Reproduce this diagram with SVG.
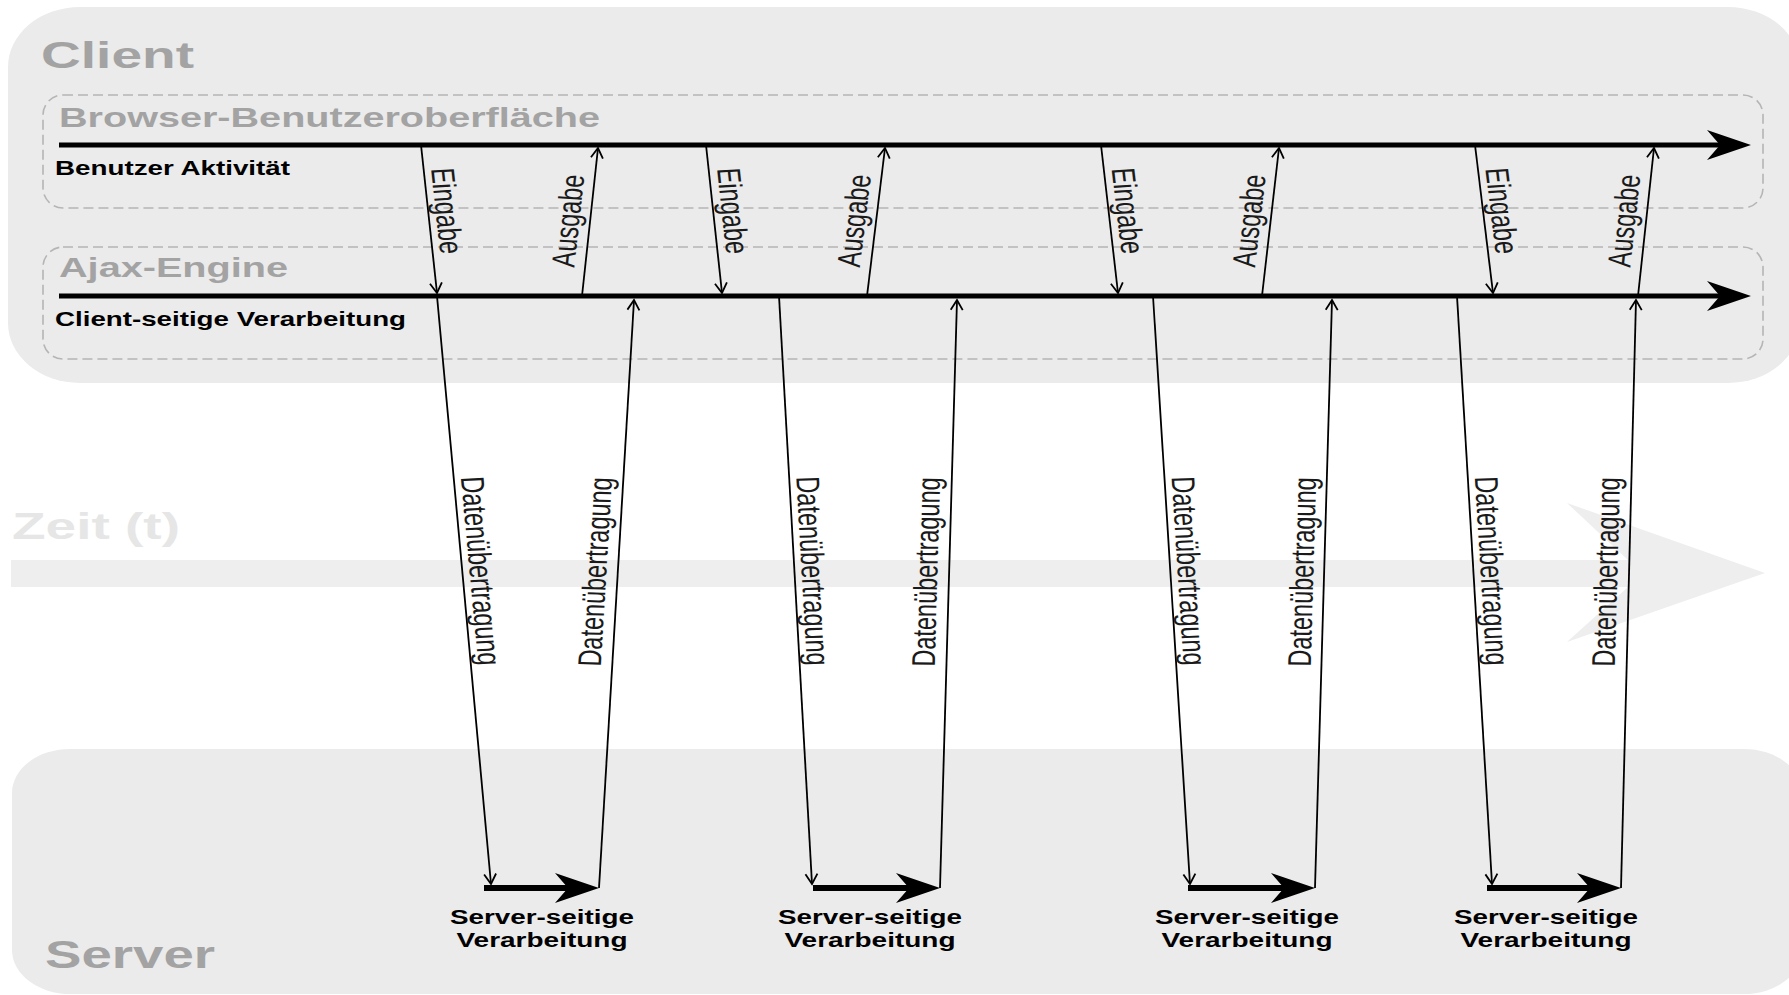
<svg xmlns="http://www.w3.org/2000/svg" width="1789" height="995" viewBox="0 0 1789 995">
<style>
text{font-family:"Liberation Sans",Arial,Helvetica,sans-serif}
.zone{fill:#ebebeb}
.zt{font-weight:bold;fill:#a3a3a3}
.sub{fill:none;stroke:#b5b5b5;stroke-width:1.6;stroke-dasharray:10 5}
.lbl{font-weight:bold;fill:#000;font-size:19.5px}
.axis{fill:none;stroke:#000;stroke-width:5;marker-end:url(#big)}
.srv{fill:none;stroke:#000;stroke-width:6;marker-end:url(#big)}
.thin{fill:none;stroke:#000;stroke-width:1.8;marker-end:url(#small)}
.rl{font-size:23.5px;fill:#1a1a1a;text-anchor:middle}
.sv{font-weight:bold;font-size:19.5px;fill:#000;text-anchor:middle}
</style>
<defs>
<marker id="big" viewBox="0 0 44 30" refX="13" refY="15" markerWidth="44" markerHeight="30" markerUnits="userSpaceOnUse" orient="auto">
<path d="M0,0 L44,15 L0,30 L13,15 Z" fill="#000"/>
</marker>
<marker id="small" viewBox="-1 -1 14 14" refX="10" refY="6" markerWidth="14" markerHeight="14" markerUnits="userSpaceOnUse" orient="auto" overflow="visible">
<path d="M0,0 L10,6 L0,12" fill="none" stroke="#000" stroke-width="1.8"/>
</marker>
</defs>
<rect width="1789" height="995" fill="#fff"/>
<g id="client">
<rect class="zone" x="8" y="7" width="1792" height="376" rx="72" ry="60"/>
<text class="zt" x="41" y="68" font-size="37" textLength="153" lengthAdjust="spacingAndGlyphs">Client</text>
</g>
<g id="server">
<rect class="zone" x="12" y="749" width="1790" height="245" rx="58" ry="44"/>
<text class="zt" x="45" y="968" font-size="39" textLength="170" lengthAdjust="spacingAndGlyphs">Server</text>
</g>
<g id="zeit">
<rect x="11" y="560" width="1625" height="27" fill="#eeeeee"/>
<polygon points="1567,503 1765,573 1567,642 1628,587 1628,560" fill="#eeeeee"/>
<text x="12" y="539" font-size="37" font-weight="bold" fill="#e6e6e6" textLength="168" lengthAdjust="spacingAndGlyphs">Zeit (t)</text>
</g>
<g id="browser">
<rect class="sub" x="43" y="95" width="1720" height="113" rx="20"/>
<text class="zt" x="59" y="127" font-size="27" textLength="541" lengthAdjust="spacingAndGlyphs">Browser-Benutzeroberfläche</text>
<text class="lbl" x="55" y="175" textLength="235" lengthAdjust="spacingAndGlyphs">Benutzer Aktivität</text>
<line class="axis" x1="59" y1="145" x2="1720" y2="145"/>
</g>
<g id="ajax">
<rect class="sub" x="43" y="247" width="1720" height="112" rx="20"/>
<text class="zt" x="59" y="277" font-size="27" textLength="229" lengthAdjust="spacingAndGlyphs">Ajax-Engine</text>
<text class="lbl" x="55" y="326" textLength="351" lengthAdjust="spacingAndGlyphs">Client-seitige Verarbeitung</text>
<line class="axis" x1="59" y1="296" x2="1720" y2="296"/>
</g>
<g id="connectors">
<line class="thin" x1="421" y1="145" x2="437" y2="293"/>
<line class="thin" x1="582" y1="296" x2="598" y2="148"/>
<line class="thin" x1="437" y1="296" x2="491" y2="884"/>
<line class="thin" x1="599" y1="888" x2="634" y2="300"/>
<line class="srv" x1="484" y1="888" x2="568" y2="888"/>

<line class="thin" x1="706" y1="145" x2="722" y2="293"/>
<line class="thin" x1="867" y1="296" x2="885" y2="148"/>
<line class="thin" x1="779" y1="296" x2="812" y2="884"/>
<line class="thin" x1="940" y1="888" x2="957" y2="300"/>
<line class="srv" x1="813" y1="888" x2="909" y2="888"/>

<line class="thin" x1="1101" y1="145" x2="1118" y2="293"/>
<line class="thin" x1="1262" y1="296" x2="1279" y2="148"/>
<line class="thin" x1="1153" y1="296" x2="1190" y2="884"/>
<line class="thin" x1="1315" y1="888" x2="1332" y2="300"/>
<line class="srv" x1="1188" y1="888" x2="1284" y2="888"/>

<line class="thin" x1="1475" y1="145" x2="1493" y2="293"/>
<line class="thin" x1="1638" y1="296" x2="1654" y2="148"/>
<line class="thin" x1="1457" y1="296" x2="1492" y2="884"/>
<line class="thin" x1="1621" y1="888" x2="1636" y2="300"/>
<line class="srv" x1="1487" y1="888" x2="1590" y2="888"/>

<text class="rl" y="6" transform="translate(444,211) scale(1.4,1) rotate(85.5)">Eingabe</text>
<text class="rl" y="6" transform="translate(571,221) scale(1.4,1) rotate(-85.5)">Ausgabe</text>
<text class="rl" y="6" transform="translate(478,571) scale(1.4,1) rotate(86.2)">Datenübertragung</text>
<text class="rl" y="6" transform="translate(598,572) scale(1.4,1) rotate(-87.5)">Datenübertragung</text>

<text class="rl" y="6" transform="translate(730,211) scale(1.4,1) rotate(85.5)">Eingabe</text>
<text class="rl" y="6" transform="translate(857,221) scale(1.4,1) rotate(-85)">Ausgabe</text>
<text class="rl" y="6" transform="translate(810,571) scale(1.4,1) rotate(87.7)">Datenübertragung</text>
<text class="rl" y="6" transform="translate(929,572) scale(1.4,1) rotate(-88.8)">Datenübertragung</text>

<text class="rl" y="6" transform="translate(1125,211) scale(1.4,1) rotate(85.2)">Eingabe</text>
<text class="rl" y="6" transform="translate(1252,221) scale(1.4,1) rotate(-85.2)">Ausgabe</text>
<text class="rl" y="6" transform="translate(1186,571) scale(1.4,1) rotate(87.4)">Datenübertragung</text>
<text class="rl" y="6" transform="translate(1305,572) scale(1.4,1) rotate(-88.8)">Datenübertragung</text>

<text class="rl" y="6" transform="translate(1499,211) scale(1.4,1) rotate(85)">Eingabe</text>
<text class="rl" y="6" transform="translate(1627,221) scale(1.4,1) rotate(-85.5)">Ausgabe</text>
<text class="rl" y="6" transform="translate(1489,571) scale(1.4,1) rotate(87.5)">Datenübertragung</text>
<text class="rl" y="6" transform="translate(1609,572) scale(1.4,1) rotate(-88.9)">Datenübertragung</text>
</g>
<g id="proc1">
<text class="sv" x="542" y="924" textLength="184" lengthAdjust="spacingAndGlyphs">Server-seitige</text>
<text class="sv" x="542" y="947" textLength="171" lengthAdjust="spacingAndGlyphs">Verarbeitung</text>
</g>
<g id="proc2">
<text class="sv" x="870" y="924" textLength="184" lengthAdjust="spacingAndGlyphs">Server-seitige</text>
<text class="sv" x="870" y="947" textLength="171" lengthAdjust="spacingAndGlyphs">Verarbeitung</text>
</g>
<g id="proc3">
<text class="sv" x="1247" y="924" textLength="184" lengthAdjust="spacingAndGlyphs">Server-seitige</text>
<text class="sv" x="1247" y="947" textLength="171" lengthAdjust="spacingAndGlyphs">Verarbeitung</text>
</g>
<g id="proc4">
<text class="sv" x="1546" y="924" textLength="184" lengthAdjust="spacingAndGlyphs">Server-seitige</text>
<text class="sv" x="1546" y="947" textLength="171" lengthAdjust="spacingAndGlyphs">Verarbeitung</text>
</g>
</svg>
